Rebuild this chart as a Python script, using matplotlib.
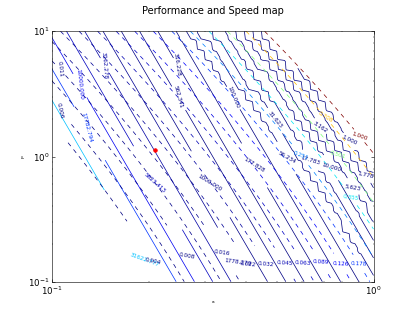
import numpy as np
import matplotlib
matplotlib.use('Agg')
import matplotlib.pyplot as plt
from matplotlib.colors import Normalize
from matplotlib.ticker import NullFormatter

# contour levels
speed_levels = 10 ** np.arange(0, 5.01, 0.25)
perf_levels = 10 ** np.arange(-3, 0.001, 0.15)

# log-log model of the two maps, slopes/offsets
perf_c, perf_a, perf_p, perf_pp = -0.02, 2.6, 0.8, 0.1
speed_c, speed_p, speed_a = 0.55, -1.0, -4.4
speed_cap = 10 ** 4.53
perf_cap = 1.2

# performance thresholds where the speed drops by one step (top right)
step_perf = [0.22, 0.3, 0.4, 0.5, 0.6, 0.7, 0.8, 0.9]
step_drop = 0.11  # decades per step

# current operating point
point_a = [0.209]
point_p = [1.13]

plt.rcParams['lines.dashed_pattern'] = [6, 6]
plt.rcParams['lines.scale_dashes'] = False

# fine grid for drawing, coarse cells for the stepped part
rep = 4
a_cells = np.logspace(-1, 0, 40)
p_cells = np.logspace(-1, 1, 25)
a_grid = np.logspace(-1, 0, 40 * rep)
p_grid = np.logspace(-1, 1, 25 * rep)
A, P = np.meshgrid(a_grid, p_grid)
Ac, Pc = np.meshgrid(a_cells, p_cells)


def performance(a, p):
    lp = np.log10(p)
    return 10 ** (perf_c + perf_a * np.log10(a) + perf_p * lp + perf_pp * lp ** 2)


perf = performance(A, P)
steps = sum((performance(Ac, Pc) > t).astype(float) for t in step_perf)
steps = np.repeat(np.repeat(steps, rep, axis=0), rep, axis=1)
speed = 10 ** (speed_c + speed_p * np.log10(P) + speed_a * np.log10(A)
               - step_drop * steps)

perf = np.where((perf > perf_cap) | (speed > speed_cap * 1.3), np.nan, perf)
speed = np.where((speed > speed_cap) | (perf > 1.0), np.nan, speed)

fig = plt.figure(figsize=(415 / 52, 313 / 52), dpi=52)
fig.subplots_adjust(left=0.125, right=0.9, bottom=0.1, top=0.9)
ax = fig.add_subplot(111)

cs1 = ax.contour(A, P, speed, levels=speed_levels, cmap='jet',
                 norm=Normalize(1, 1e5), linewidths=1.0)
ax.clabel(cs1, fmt='%.3f', fontsize=8)
cs2 = ax.contour(A, P, perf, levels=perf_levels, cmap='jet',
                 norm=Normalize(1e-3, 1), linewidths=1.0, linestyles='dashed')
ax.clabel(cs2, fmt='%.3f', fontsize=8)

ax.plot(point_a, point_p, 'o', color='red', markersize=5)

ax.set_xscale('log')
ax.set_yscale('log')
ax.set_xlim(0.1, 1)
ax.set_ylim(0.1, 10)
ax.xaxis.set_minor_formatter(NullFormatter())
ax.yaxis.set_minor_formatter(NullFormatter())
ax.set_xlabel('a', fontsize=6)
ax.set_ylabel('p', fontsize=6)
ax.set_title('Performance and Speed map', fontsize=13.5, pad=24)
ax.tick_params(which='both', direction='in', top=True, right=True, labelsize=12)
ax.tick_params(which='major', length=4)
ax.tick_params(which='minor', length=2)

fig.savefig('out.png', dpi=52)
